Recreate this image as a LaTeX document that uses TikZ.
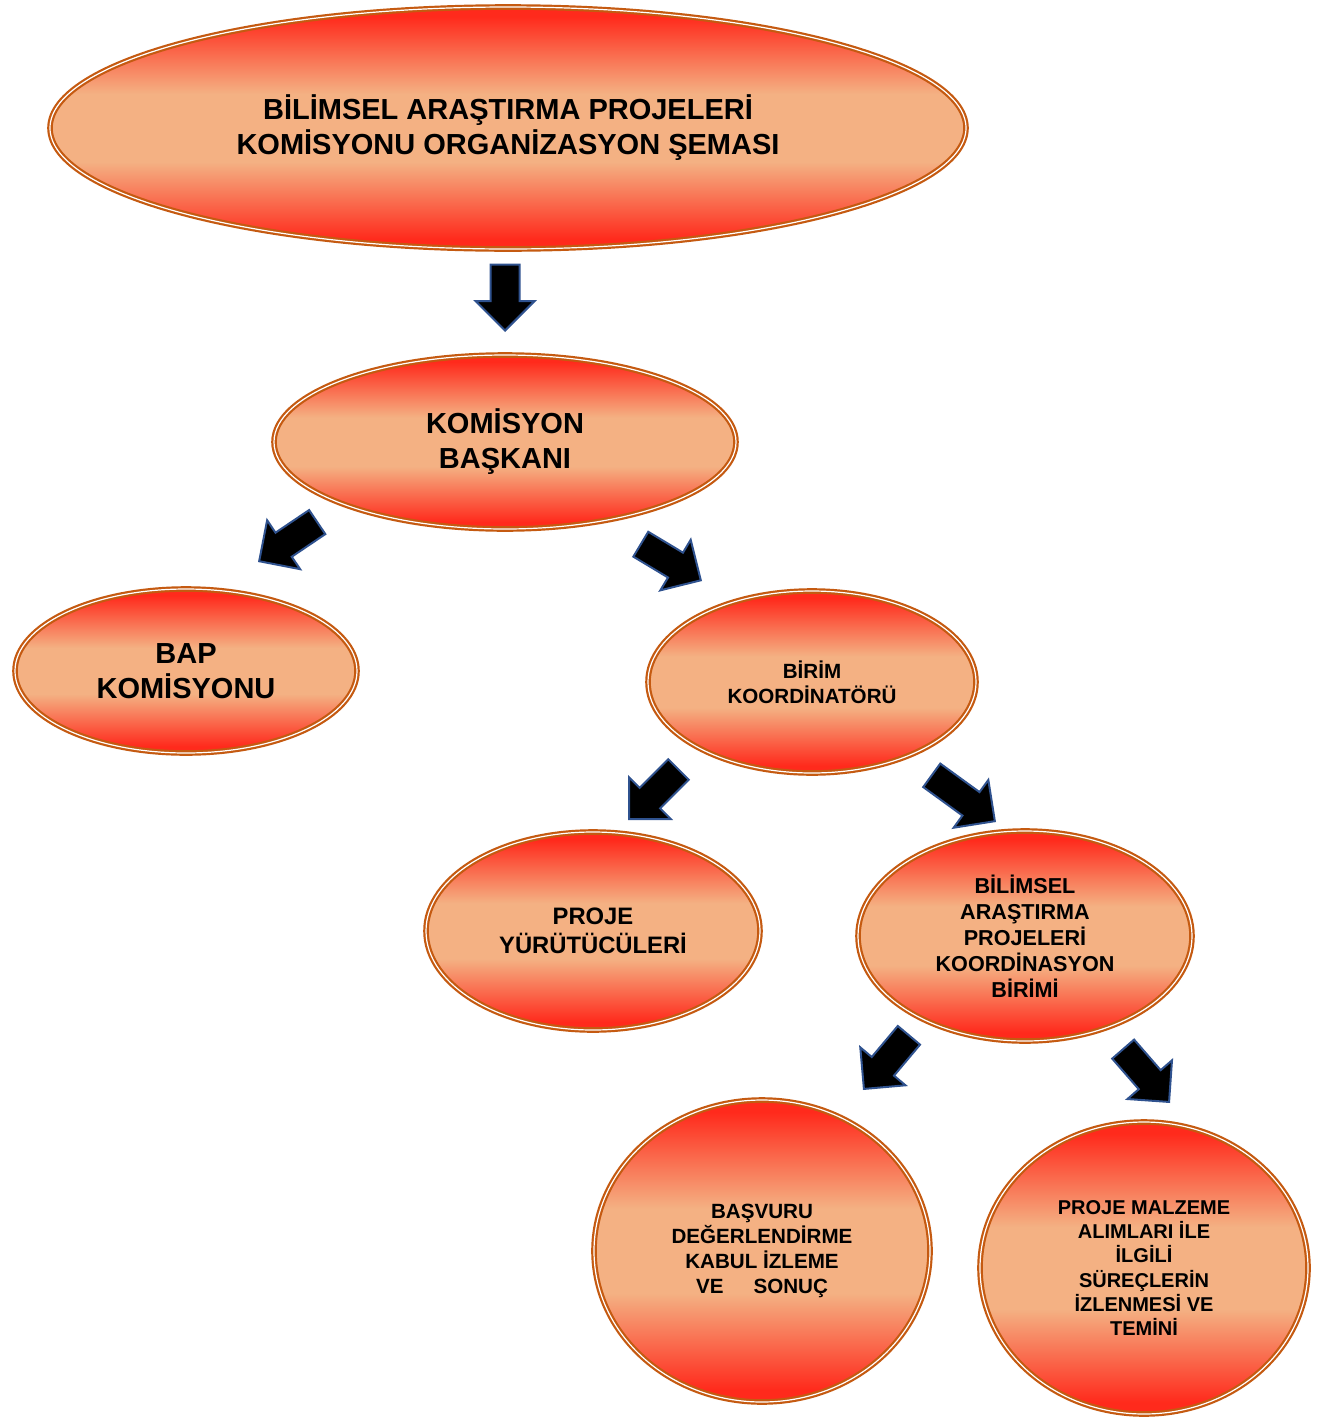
\documentclass[tikz,border=0pt]{standalone}
\usepackage{fontspec}
\setmainfont{Liberation Sans}
\usetikzlibrary{shapes.geometric,shapes.arrows}

\definecolor{ovred}{HTML}{FF2A1C}
\definecolor{ovsalmon}{HTML}{F4B183}
\definecolor{ovrim}{HTML}{C55A11}
\definecolor{arrrim}{HTML}{2F528F}
\pgfdeclareverticalshading{ovfill}{100bp}{color(0bp)=(ovred); color(27bp)=(ovred); color(43bp)=(ovsalmon); color(57bp)=(ovsalmon); color(73bp)=(ovred); color(100bp)=(ovred)}

\begin{document}
\begin{tikzpicture}
          [x = 0.5pt, y = -0.5pt,
           oval/.style = {ellipse, draw = ovrim, double = white, line width = 1.1pt,
             double distance = 0.6pt, shading = ovfill, inner sep = 0pt, align = center},
           big/.style = {font = \fontsize{14.5}{17.5}\selectfont\bfseries},
           small/.style = {font = \fontsize{10.3}{12.5}\selectfont\bfseries},
           blk/.style = {single arrow, draw = arrrim, fill = black, line width = 1pt,
             minimum height = 35pt, minimum width = 28.5pt,
             single arrow head extend = 7.5pt, inner xsep = 0pt, inner ysep = 6.75pt,
             anchor = tip}]
          \useasboundingbox (0,0) rectangle (1329,1419);
          % ovals
          \node[oval, big, minimum width = 458pt, minimum height = 121pt] (title) at (508,128)
            {BİLİMSEL ARAŞTIRMA PROJELERİ\\KOMİSYONU ORGANİZASYON ŞEMASI};
          \node[oval, big, minimum width = 231pt, minimum height = 87pt] (chair) at (505,442)
            {KOMİSYON\\BAŞKANI};
          \node[oval, big, minimum width = 171pt, minimum height = 82pt] (bap) at (186,671)
            {BAP\\KOMİSYONU};
          \node[oval, small, minimum width = 164pt, minimum height = 91pt] (coord) at (812,682)
            {BİRİM\\KOORDİNATÖRÜ};
          \node[oval, font = \fontsize{11.9}{14.5}\selectfont\bfseries,
            minimum width = 167pt, minimum height = 99pt] (exec) at (593,931)
            {PROJE\\YÜRÜTÜCÜLERİ};
          \node[oval, font = \fontsize{10.8}{13}\selectfont\bfseries,
            minimum width = 167pt, minimum height = 105pt] (unit) at (1025,936)
            {BİLİMSEL\\ARAŞTIRMA\\PROJELERİ\\KOORDİNASYON\\BİRİMİ};
          \node[oval, small, minimum width = 168pt, minimum height = 151pt] (eval) at (762,1251)
            {BAŞVURU\\DEĞERLENDİRME\\KABUL İZLEME\\VE\hspace{15pt}SONUÇ};
          \node[oval, font = \fontsize{10}{12.2}\selectfont\bfseries,
            minimum width = 164pt, minimum height = 146pt] (supply) at (1144,1268)
            {PROJE MALZEME\\ALIMLARI İLE\\İLGİLİ\\SÜREÇLERİN\\İZLENMESİ VE\\TEMİNİ};
          % block arrows
          \node[blk, rotate = -90, minimum height = 33pt] (a1) at (505,332) {};
          \node[blk, rotate = 214] (a2) at (258,562) {};
          \node[blk, rotate = -31] (a3) at (702,581) {};
          \node[blk, rotate = 225] (a4) at (628,820) {};
          \node[blk, rotate = -36, minimum height = 39pt] (a5) at (996,822) {};
          \node[blk, rotate = 230] (a6) at (863,1090) {};
          \node[blk, rotate = -49] (a7) at (1170,1103) {};
        \end{tikzpicture}
\end{document}
